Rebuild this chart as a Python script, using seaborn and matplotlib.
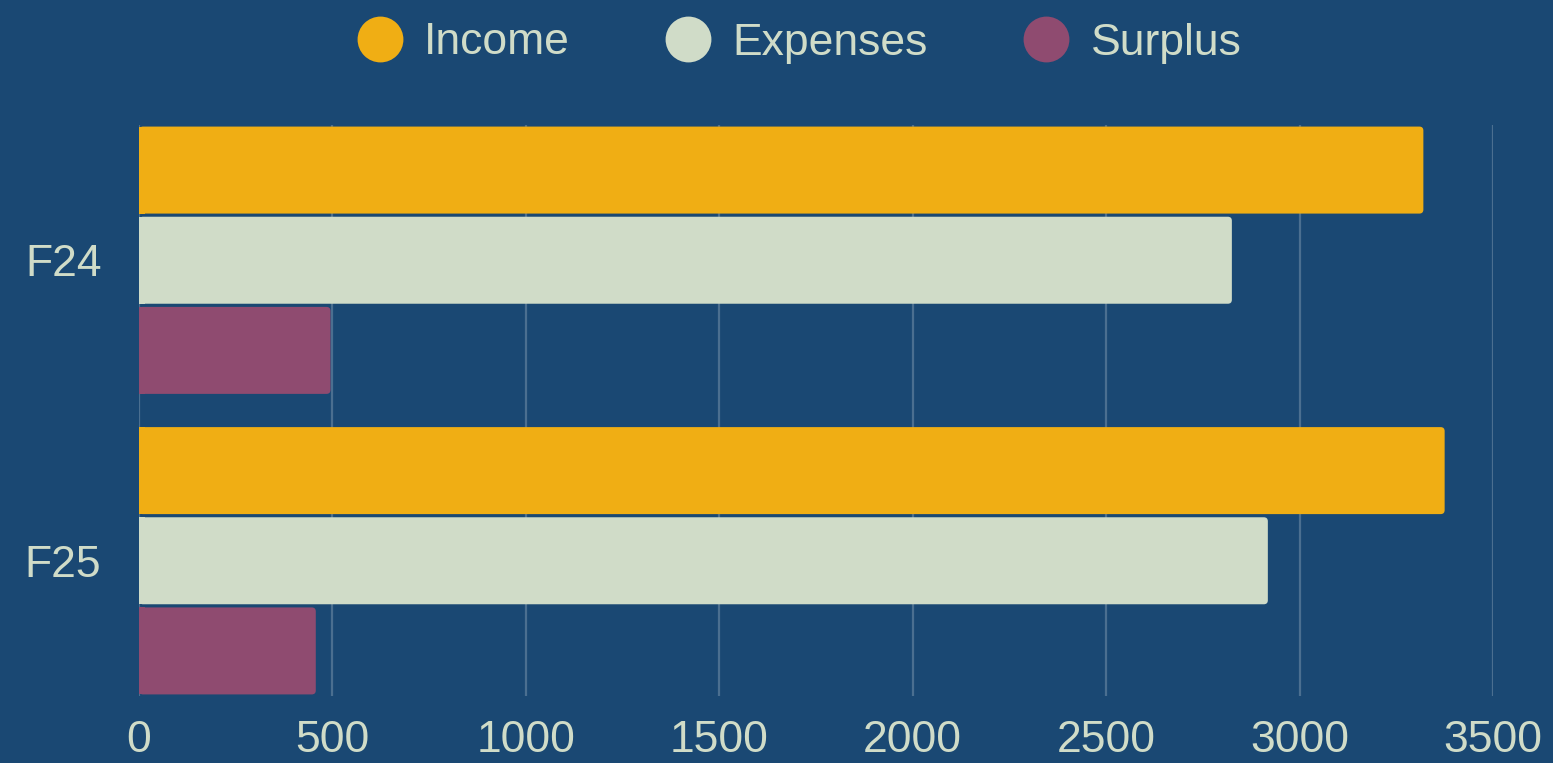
import matplotlib
matplotlib.use("Agg")
import matplotlib.pyplot as plt
from matplotlib.lines import Line2D
from matplotlib.patches import FancyBboxPatch, Rectangle
import seaborn as sns
import pandas as pd

# data
years = ["F24", "F25"]
series = ["Income", "Expenses", "Surplus"]
income = [3320, 3375]
expenses = [2825, 2918]
surplus = [495, 457]
x_ticks = [0, 500, 1000, 1500, 2000, 2500, 3000, 3500]

bg = "#1a4873"
fg = "#d0dcc8"
grid_col = "#4b6f90"
colors = ["#f0ae14", "#d0dcc8", "#8f4b70"]

df = pd.DataFrame({
    "year": years * 3,
    "series": [s for s in series for _ in years],
    "value": income + expenses + surplus,
})

sns.set_theme(style="white")
plt.rcParams["font.family"] = ["Liberation Sans", "DejaVu Sans"]

fig = plt.figure(figsize=(15.53, 7.63), dpi=100, facecolor=bg)
ax = fig.add_axes([139 / 1553, 1 - 696 / 763, (1493 - 139) / 1553, (696 - 125) / 763])
ax.set_facecolor(bg)

sns.barplot(ax=ax, data=df, y="year", x="value", hue="series", orient="h",
            palette=colors, width=0.9, gap=0.035, order=years, hue_order=series,
            legend=False, saturation=1, linewidth=0, zorder=3)

ax.set_xlim(0, 3500)
ax.set_ylim(1.45, -0.45)

# round the right-hand corners of the bars (about 4 px), keep the left ones square
px_x = 3500 / 1354
px_y = 1.9 / 571
for p in list(ax.patches):
    x, y, w, h = p.get_x(), p.get_y(), p.get_width(), p.get_height()
    fc = p.get_facecolor()
    p.remove()
    ax.add_patch(FancyBboxPatch((x, y), w, h,
                                boxstyle="round,pad=0,rounding_size=%f" % (4 * px_x),
                                mutation_aspect=px_y / px_x, fc=fc, lw=0, zorder=3))
    ax.add_patch(Rectangle((x, y), 6 * px_x, h, fc=fc, lw=0, zorder=3))

ax.set_xticks(x_ticks)
ax.set_xticklabels([str(t) for t in x_ticks])
ax.grid(axis="x", color=grid_col, linewidth=1.6, zorder=0)
ax.set_axisbelow(True)
for s in ax.spines.values():
    s.set_visible(False)
ax.tick_params(axis="x", length=0, pad=17, labelsize=32, labelcolor=fg)
ax.tick_params(axis="y", length=0, pad=27, labelsize=32, labelcolor=fg)
ax.set_xlabel("")
ax.set_ylabel("")

handles = [Line2D([], [], marker="o", linestyle="", markersize=33,
                  markerfacecolor=c, markeredgewidth=0) for c in colors]
leg = fig.legend(handles, series, loc="center", bbox_to_anchor=(0.512, 1 - 43 / 763),
                 ncol=3, frameon=False, fontsize=32, handlelength=1.4,
                 handletextpad=0.3, columnspacing=1.96, labelcolor=fg)

fig.savefig("out.png", dpi=100, facecolor=bg)
